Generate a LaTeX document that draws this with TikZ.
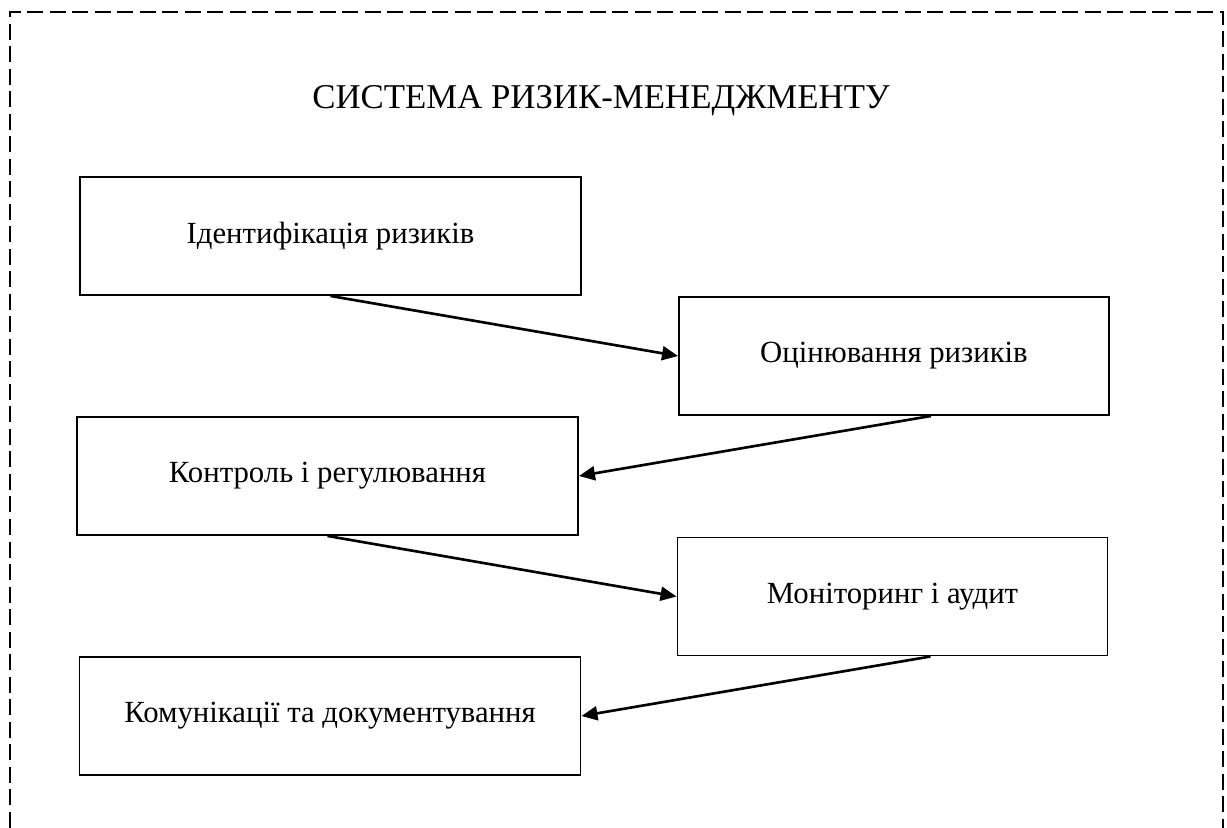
\documentclass[tikz,border=0pt]{standalone}
\usepackage{fontspec}
\setmainfont{Liberation Serif}
\usetikzlibrary{arrows.meta}
\tikzset{every node/.style={font=\fontsize{17.5}{21}\selectfont, inner sep=2pt},
  stagebox/.style={draw, line width=1.1pt, minimum height=2.36cm},
  wide/.style={minimum width=10.02cm},
  narrow/.style={minimum width=8.6cm},
  flow/.style={line width=1.5pt, -{Triangle[length=0.32cm,width=0.28cm]}}}

\begin{document}
\begin{tikzpicture}
  \useasboundingbox (0,0) rectangle (24.54,-16.54);

  \draw[line width=1.1pt, dash pattern=on 0.32cm off 0.13cm]
   (0.2,-17) -- (0.2,-0.24) -- (24.46,-0.24) -- (24.46,-17);

  \node[font=\fontsize{19.8}{24}\selectfont] (title) at (12.02,-2.02) {СИСТЕМА РИЗИК-МЕНЕДЖМЕНТУ};

  \node[stagebox, wide]   (ident) at ( 6.61, -4.72) {Ідентифікація ризиків};
  \node[stagebox, narrow] (assess) at (17.88, -7.12) {Оцінювання ризиків};
  \node[stagebox, wide]   (ctrl) at ( 6.55, -9.52) {Контроль і регулювання};
  \node[stagebox, narrow] (monit) at (17.85,-11.93) {Моніторинг і аудит};
  \node[stagebox, wide]   (comm) at ( 6.60,-14.32) {Комунікації та документування};

  \draw[flow] (ident.south) -- (assess.west);
  \draw[flow] ([xshift=0.74cm]assess.south) -- (ctrl.east);
  \draw[flow] (ctrl.south) -- (monit.west);
  \draw[flow] ([xshift=0.76cm]monit.south) -- (comm.east);
\end{tikzpicture}
\end{document}
